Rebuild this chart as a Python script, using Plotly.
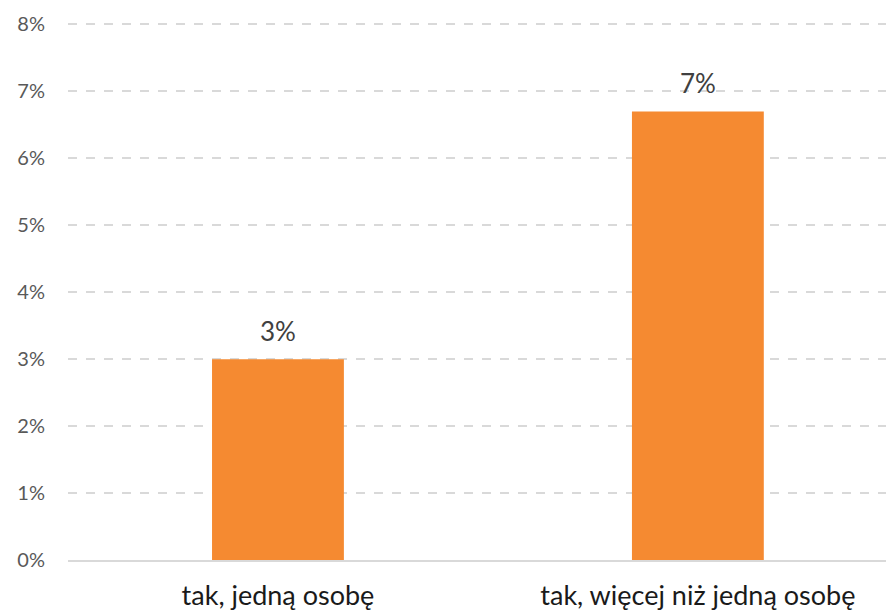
import plotly.graph_objects as go

categories = ["tak, jedną osobę", "tak, więcej niż jedną osobę"]
values = [0.030, 0.067]
value_labels = ["3%", "7%"]
tick_vals = [0, 0.01, 0.02, 0.03, 0.04, 0.05, 0.06, 0.07, 0.08]
tick_text = ["0%", "1%", "2%", "3%", "4%", "5%", "6%", "7%", "8%"]

FONT = "Lato, 'Open Sans', sans-serif"

fig = go.Figure()
fig.add_trace(go.Bar(
    x=categories, y=values,
    marker=dict(color="#F58A31", line=dict(width=0)),
    hoverinfo="skip",
))

for c, v, t in zip(categories, values, value_labels):
    fig.add_annotation(x=c, y=v, text=t, showarrow=False, yanchor="bottom",
                       yshift=10, font=dict(family=FONT, size=26, color="#404040"))

fig.update_layout(
    width=888, height=612,
    margin=dict(l=68, r=2, t=21, b=52, autoexpand=False),
    paper_bgcolor="white", plot_bgcolor="white",
    bargap=0.686,
    showlegend=False,
    font=dict(family=FONT),
)
fig.update_yaxes(
    range=[0, 0.0805], tickvals=tick_vals, ticktext=tick_text,
    showgrid=True, gridcolor="#D9D9D9", gridwidth=1.5, griddash="dash",
    zeroline=False, showline=False, automargin=False,
    tickfont=dict(family=FONT, size=20, color="#595959"),
    ticklabelstandoff=22,
)
fig.update_xaxes(
    range=[-0.5, 1.448],
    showline=True, linecolor="#D9D9D9", linewidth=1.5,
    showgrid=False, automargin=False,
    tickfont=dict(family=FONT, size=27, color="#1a1a1a"),
    ticklabelstandoff=11,
)

fig.write_html("out.html", config={"displayModeBar": False},
               post_script="document.body.style.margin='0';")
